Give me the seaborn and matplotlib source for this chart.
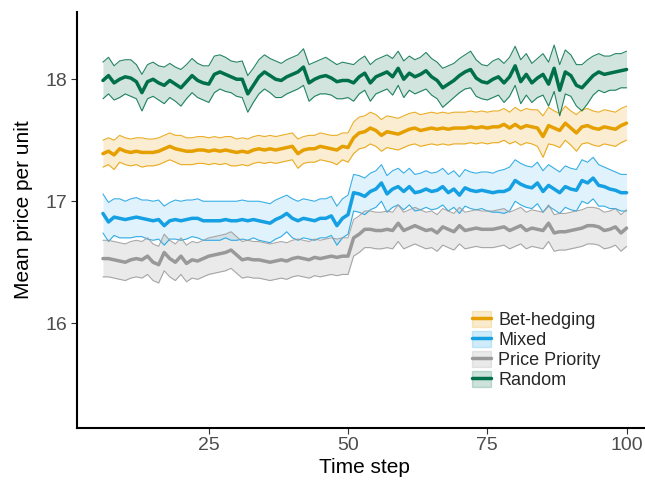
import numpy as np
import pandas as pd
import matplotlib
matplotlib.use("Agg")
import matplotlib.pyplot as plt
import seaborn as sns
from matplotlib.patches import Patch
from matplotlib.lines import Line2D
from matplotlib.legend_handler import HandlerTuple

# time steps 6..100
time_step = list(range(6, 101))

strategies = ["Bet-hedging", "Mixed", "Price Priority", "Random"]
colors = ["#E69F00", "#14A0E3", "#999999", "#00704A"]

bet_mean = [
    17.39, 17.41, 17.38, 17.43, 17.41, 17.40, 17.41, 17.40, 17.40, 17.40,
    17.41, 17.43, 17.45, 17.43, 17.42, 17.41, 17.41, 17.42, 17.42, 17.41,
    17.42, 17.41, 17.42, 17.41, 17.40, 17.41, 17.40, 17.42, 17.43, 17.42,
    17.43, 17.42, 17.43, 17.44, 17.45, 17.39, 17.42, 17.43, 17.43, 17.45,
    17.44, 17.43, 17.42, 17.45, 17.44, 17.52, 17.56, 17.57, 17.60, 17.58,
    17.54, 17.57, 17.56, 17.55, 17.57, 17.59, 17.60, 17.58, 17.59, 17.60,
    17.59, 17.60, 17.59, 17.60, 17.60, 17.60, 17.61, 17.60, 17.61, 17.60,
    17.61, 17.61, 17.63, 17.60, 17.63, 17.60, 17.62, 17.61, 17.60, 17.53,
    17.62, 17.60, 17.58, 17.64, 17.60, 17.56, 17.61, 17.62, 17.60, 17.59,
    17.61, 17.60, 17.59, 17.62, 17.64,
]
bet_se = [
    0.11, 0.11, 0.12, 0.11, 0.11, 0.11, 0.11, 0.12, 0.11, 0.11,
    0.11, 0.11, 0.11, 0.11, 0.12, 0.11, 0.11, 0.11, 0.11, 0.11,
    0.11, 0.11, 0.11, 0.12, 0.11, 0.11, 0.11, 0.11, 0.11, 0.11,
    0.11, 0.11, 0.11, 0.11, 0.11, 0.12, 0.11, 0.11, 0.11, 0.11,
    0.11, 0.11, 0.12, 0.11, 0.12, 0.13, 0.13, 0.13, 0.13, 0.13,
    0.13, 0.13, 0.13, 0.13, 0.13, 0.13, 0.13, 0.13, 0.13, 0.13,
    0.13, 0.13, 0.13, 0.13, 0.13, 0.13, 0.13, 0.13, 0.13, 0.13,
    0.13, 0.13, 0.13, 0.13, 0.14, 0.14, 0.14, 0.14, 0.15, 0.17,
    0.15, 0.14, 0.14, 0.14, 0.14, 0.15, 0.14, 0.14, 0.14, 0.14,
    0.14, 0.14, 0.14, 0.14, 0.14,
]

mixed_mean = [
    16.90, 16.83, 16.87, 16.86, 16.85, 16.86, 16.87, 16.86, 16.85, 16.84,
    16.85, 16.80, 16.84, 16.85, 16.84, 16.85, 16.86, 16.86, 16.84, 16.84,
    16.84, 16.84, 16.85, 16.84, 16.84, 16.85, 16.84, 16.85, 16.84, 16.83,
    16.82, 16.85, 16.87, 16.90, 16.86, 16.84, 16.86, 16.85, 16.84, 16.86,
    16.86, 16.88, 16.80, 16.86, 16.89, 17.07, 17.06, 17.04, 17.08, 17.10,
    17.15, 17.06, 17.10, 17.12, 17.08, 17.12, 17.07, 17.08, 17.10, 17.08,
    17.09, 17.12, 17.07, 17.10, 17.05, 17.11, 17.09, 17.08, 17.09, 17.08,
    17.07, 17.08, 17.08, 17.10, 17.17, 17.14, 17.12, 17.11, 17.15, 17.08,
    17.13, 17.10, 17.07, 17.12, 17.10, 17.09, 17.17, 17.15, 17.19, 17.13,
    17.12, 17.10, 17.09, 17.07, 17.07,
]
mixed_se = [
    0.16, 0.16, 0.15, 0.16, 0.15, 0.16, 0.16, 0.15, 0.16, 0.16,
    0.16, 0.16, 0.15, 0.16, 0.16, 0.16, 0.15, 0.16, 0.16, 0.16,
    0.16, 0.16, 0.15, 0.16, 0.16, 0.16, 0.16, 0.15, 0.16, 0.16,
    0.16, 0.16, 0.16, 0.15, 0.16, 0.16, 0.16, 0.16, 0.16, 0.16,
    0.16, 0.16, 0.16, 0.16, 0.16, 0.15, 0.15, 0.15, 0.15, 0.15,
    0.15, 0.15, 0.15, 0.15, 0.15, 0.15, 0.15, 0.15, 0.15, 0.15,
    0.15, 0.15, 0.15, 0.15, 0.15, 0.15, 0.15, 0.15, 0.15, 0.16,
    0.16, 0.17, 0.18, 0.18, 0.17, 0.17, 0.17, 0.17, 0.17, 0.17,
    0.17, 0.17, 0.17, 0.17, 0.17, 0.17, 0.17, 0.17, 0.17, 0.17,
    0.16, 0.16, 0.15, 0.15, 0.15,
]

price_mean = [
    16.53, 16.53, 16.52, 16.51, 16.50, 16.52, 16.53, 16.52, 16.55, 16.50,
    16.48, 16.58, 16.53, 16.50, 16.55, 16.49, 16.52, 16.51, 16.53, 16.55,
    16.56, 16.57, 16.58, 16.60, 16.56, 16.52, 16.53, 16.52, 16.52, 16.51,
    16.50, 16.51, 16.52, 16.51, 16.53, 16.54, 16.53, 16.52, 16.54, 16.53,
    16.54, 16.55, 16.54, 16.55, 16.55, 16.70, 16.73, 16.77, 16.77, 16.76,
    16.76, 16.77, 16.76, 16.82, 16.76, 16.78, 16.80, 16.78, 16.76, 16.77,
    16.74, 16.79, 16.77, 16.75, 16.80, 16.76, 16.77, 16.78, 16.77, 16.77,
    16.77, 16.78, 16.79, 16.76, 16.78, 16.80, 16.76, 16.78, 16.77, 16.76,
    16.82, 16.74, 16.75, 16.75, 16.76, 16.77, 16.78, 16.80, 16.80, 16.79,
    16.76, 16.77, 16.79, 16.74, 16.78,
]
price_se = [
    0.15, 0.15, 0.15, 0.15, 0.15, 0.15, 0.15, 0.15, 0.15, 0.15,
    0.15, 0.15, 0.15, 0.15, 0.15, 0.15, 0.15, 0.15, 0.15, 0.15,
    0.15, 0.15, 0.15, 0.15, 0.15, 0.15, 0.15, 0.15, 0.15, 0.15,
    0.15, 0.15, 0.15, 0.15, 0.15, 0.15, 0.15, 0.15, 0.15, 0.15,
    0.15, 0.15, 0.15, 0.15, 0.15, 0.15, 0.15, 0.15, 0.15, 0.15,
    0.15, 0.15, 0.15, 0.15, 0.15, 0.15, 0.15, 0.15, 0.15, 0.15,
    0.15, 0.15, 0.15, 0.15, 0.15, 0.15, 0.15, 0.15, 0.15, 0.15,
    0.15, 0.15, 0.15, 0.15, 0.15, 0.15, 0.15, 0.15, 0.15, 0.15,
    0.15, 0.15, 0.15, 0.15, 0.15, 0.15, 0.15, 0.15, 0.15, 0.15,
    0.15, 0.15, 0.15, 0.15, 0.15,
]

random_mean = [
    17.99, 18.03, 17.97, 18.00, 18.02, 18.01, 17.98, 17.89, 17.98, 18.00,
    17.97, 17.95, 17.99, 17.96, 17.93, 17.98, 18.03, 17.99, 17.97, 17.96,
    18.04, 18.06, 18.04, 18.02, 18.00, 18.00, 17.88, 17.95, 18.02, 18.06,
    18.03, 18.00, 17.99, 18.02, 18.04, 18.06, 18.10, 17.97, 18.00, 18.02,
    18.03, 18.01, 17.98, 17.99, 17.99, 17.97, 18.02, 18.05, 17.97, 18.02,
    18.04, 18.06, 18.02, 18.09, 18.00, 18.05, 18.02, 18.04, 18.07, 18.02,
    17.99, 17.93, 17.96, 17.99, 18.03, 18.06, 18.08, 18.01, 17.98, 17.97,
    18.00, 18.02, 17.97, 18.02, 18.11, 17.98, 18.04, 17.97, 18.01, 18.04,
    17.96, 18.09, 17.91, 18.06, 18.03, 17.95, 17.93, 17.98, 18.03, 18.06,
    18.04, 18.05, 18.06, 18.07, 18.08,
]
random_se = [
    0.15, 0.15, 0.14, 0.15, 0.14, 0.15, 0.14, 0.15, 0.14, 0.14,
    0.14, 0.15, 0.14, 0.14, 0.15, 0.14, 0.14, 0.14, 0.14, 0.15,
    0.15, 0.14, 0.14, 0.13, 0.14, 0.15, 0.15, 0.14, 0.14, 0.14,
    0.14, 0.15, 0.14, 0.14, 0.14, 0.14, 0.15, 0.15, 0.14, 0.14,
    0.15, 0.14, 0.14, 0.15, 0.14, 0.15, 0.14, 0.14, 0.15, 0.14,
    0.14, 0.14, 0.15, 0.14, 0.15, 0.14, 0.14, 0.14, 0.15, 0.15,
    0.15, 0.16, 0.15, 0.14, 0.14, 0.14, 0.15, 0.15, 0.14, 0.14,
    0.15, 0.15, 0.16, 0.16, 0.16, 0.18, 0.17, 0.16, 0.16, 0.17,
    0.18, 0.19, 0.21, 0.18, 0.17, 0.17, 0.19, 0.18, 0.16, 0.15,
    0.15, 0.14, 0.15, 0.14, 0.15,
]

means = [bet_mean, mixed_mean, price_mean, random_mean]
ses = [bet_se, mixed_se, price_se, random_se]

frames = []
for name, m, s in zip(strategies, means, ses):
    m = np.array(m)
    s = np.array(s)
    frames.append(pd.DataFrame({
        "Time step": time_step, "price": m, "lo": m - s, "hi": m + s,
        "strategy": name,
    }))
df = pd.concat(frames, ignore_index=True)

sns.set_theme(style="ticks")
plt.rcParams["font.family"] = ["Liberation Sans", "DejaVu Sans"]

fig = plt.figure(figsize=(6.45, 4.86), dpi=100)
ax = fig.add_axes([0.119, 0.119, 0.893, 0.856])

# ribbons (mean +/- se) with thin outline, then the mean lines on top
fill_alpha = {"Bet-hedging": 0.18, "Mixed": 0.13, "Price Priority": 0.2, "Random": 0.18}
for name, col in zip(strategies, colors):
    d = df[df["strategy"] == name]
    ax.fill_between(d["Time step"], d["lo"], d["hi"], color=col,
                    alpha=fill_alpha[name], linewidth=0)
    ax.plot(d["Time step"], d["lo"], color=col, lw=0.8, alpha=0.85)
    ax.plot(d["Time step"], d["hi"], color=col, lw=0.8, alpha=0.85)

sns.lineplot(data=df, x="Time step", y="price", hue="strategy",
             hue_order=strategies, palette=colors, linewidth=2.5,
             legend=False, ax=ax)

ax.set_xlim(1.3, 104.7)
ax.set_ylim(15.14, 18.55)
ax.set_xticks([25, 50, 75, 100])
ax.set_yticks([16, 17, 18])
ax.tick_params(axis="both", labelsize=14, length=4, width=0.8, pad=2.5,
               color="#333333", labelcolor="#4D4D4D")
sns.despine(ax=ax)
for sp in ["left", "bottom"]:
    ax.spines[sp].set_linewidth(1.5)
    ax.spines[sp].set_color("black")

ax.set_xlabel("Time step", fontsize=15, color="black")
ax.set_ylabel("Mean price per unit", fontsize=15, color="black")
ax.xaxis.set_label_coords(0.5, -0.071)
ax.yaxis.set_label_coords(-0.076, 0.526)

handles = []
for name, col in zip(strategies, colors):
    patch = Patch(facecolor=col, alpha=0.2, edgecolor=col, linewidth=1.0)
    line = Line2D([0], [0], color=col, lw=2.5)
    handles.append((patch, line))
leg = ax.legend(handles, strategies, handler_map={tuple: HandlerTuple(ndivide=1)},
                loc="upper left", bbox_to_anchor=(0.686, 0.282), frameon=False,
                fontsize=13, handlelength=1.05, handleheight=1.0,
                labelspacing=0.1, handletextpad=0.4, borderaxespad=0,
                borderpad=0)

fig.savefig("out.png", dpi=100)
